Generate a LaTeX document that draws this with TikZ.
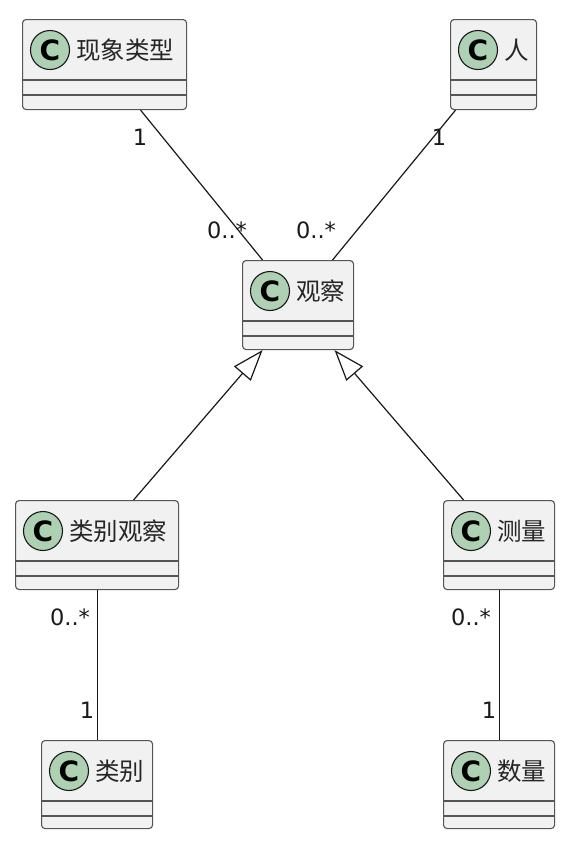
\documentclass[tikz,border=0pt]{standalone}
\usepackage{fontspec}
\setmainfont{DejaVu Sans}
\newfontfamily\cjk{Noto Sans CJK SC}
\usetikzlibrary{arrows.meta,calc}
\definecolor{boxfill}{HTML}{F1F1F1}
\definecolor{boxline}{HTML}{555555}
\definecolor{iconfill}{HTML}{ADD1B2}
\definecolor{inkline}{HTML}{181818}
\tikzset{
  clsbox/.style={draw=boxline, fill=boxfill, line width=1.1pt, rounded corners=3.5pt, inner sep=0pt},
  sepline/.style={draw=boxline, line width=1.1pt},
  cicon/.style={circle, draw=inkline, fill=iconfill, line width=1.1pt, minimum size=39pt, inner sep=0pt,
    font=\fontsize{28}{28}\selectfont\bfseries},
  clsname/.style={inner sep=0pt, text=black!85, font=\cjk\fontsize{24.5}{25}\selectfont},
  assoc/.style={draw=inkline, line width=1.2pt},
  inherit/.style={draw=inkline, line width=1.2pt, -{Triangle[open, length=31pt, width=22pt, line width=1.2pt]}},
  mult/.style={inner sep=0pt, text=black!90, font=\fontsize{22.5}{23}\selectfont}
}
\newcommand\umlcls[6]{%
  \node[clsbox, minimum width=#4pt, minimum height=#5pt, anchor=north west] (#1) at (#2,#3) {};
  \draw[sepline] ([yshift=-61pt]#1.north west) -- ([yshift=-61pt]#1.north east);
  \draw[sepline] ([yshift=-76pt]#1.north west) -- ([yshift=-76pt]#1.north east);
  \node[cicon] (#1c) at ([xshift=28pt,yshift=-31pt]#1.north west) {C};
  \node[clsname, anchor=west] (#1t) at ([xshift=6pt]#1c.east) {#6};
}
\begin{document}
\begin{tikzpicture}[x=1pt,y=-1pt]
\useasboundingbox (0,0) rectangle (571,847);
% classes
\umlcls{xx}{22}{19}{164}{90}{现象类型}
\umlcls{ren}{450}{19}{86}{90}{人}
\umlcls{obs}{242}{260}{111}{89}{观察}
\umlcls{lbobs}{15}{500}{163}{89}{类别观察}
\umlcls{cm}{443}{500}{111}{89}{测量}
\umlcls{lb}{41}{740}{111}{88}{类别}
\umlcls{sl}{443}{740}{111}{88}{数量}
% associations
\draw[assoc] ([xshift=36pt]xx.south) -- ([xshift=-35.5pt]obs.north);
\draw[assoc] ([xshift=-38pt]ren.south) -- ([xshift=34.5pt]obs.north);
\draw[assoc] ([xshift=0.5pt]lbobs.south) -- ([xshift=0.5pt]lb.north);
\draw[assoc] ([xshift=0.5pt]cm.south) -- ([xshift=0.5pt]sl.north);
% generalizations
\draw[inherit] ([xshift=36.5pt]lbobs.north) -- ([xshift=-35.5pt]obs.south);
\draw[inherit] ([xshift=-35.5pt]cm.north) -- ([xshift=36.5pt]obs.south);
% multiplicities
\node[mult] (m1) at (140,137) {1};
\node[mult] (m2) at (227,230) {0..*};
\node[mult] (m3) at (439,137) {1};
\node[mult] (m4) at (316,230) {0..*};
\node[mult] (m5) at (70,617) {0..*};
\node[mult] (m6) at (87,710) {1};
\node[mult] (m7) at (471,617) {0..*};
\node[mult] (m8) at (489,710) {1};
\end{tikzpicture}
\end{document}
